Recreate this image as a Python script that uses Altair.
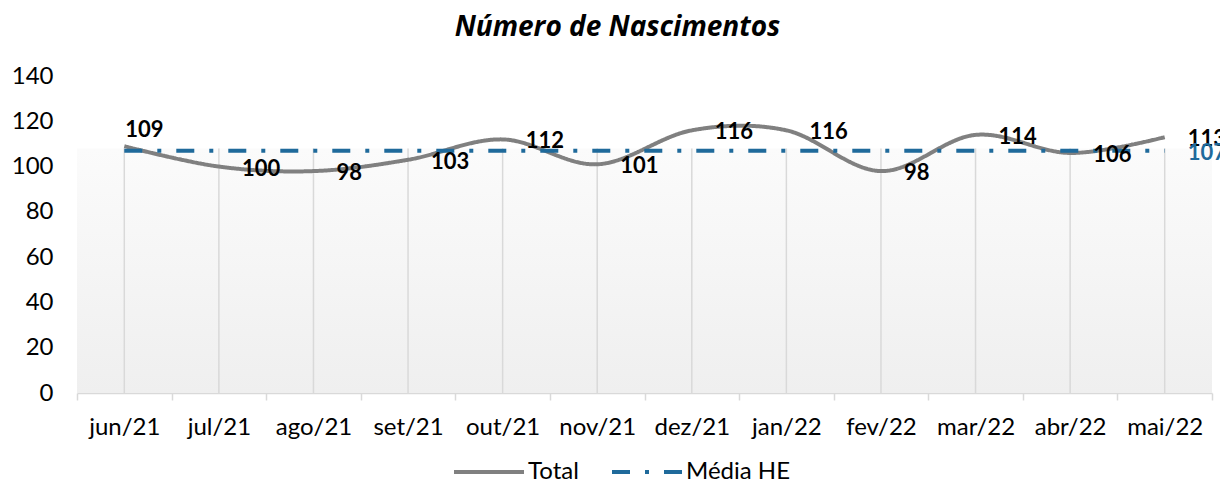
import altair as alt
import pandas as pd

meses = ["jun/21", "jul/21", "ago/21", "set/21", "out/21", "nov/21",
         "dez/21", "jan/22", "fev/22", "mar/22", "abr/22", "mai/22"]
total = [109, 100, 98, 103, 112, 101, 116, 116, 98, 114, 106, 113]
media_he = [107, 107, 107, 107, 107, 107, 107, 107, 107, 107, 107, 107]
faixa_topo = [108]
series = ["Total", "Média HE"]
y_ticks = [0, 20, 40, 60, 80, 100, 120, 140]

FONT = "Lato"
GRAY = "#808080"
BLUE = "#1f6a9b"

df_total = pd.DataFrame({"mes": meses, "valor": total, "serie": "Total", "idx": list(range(len(meses)))})
df_media = pd.DataFrame({"mes": meses, "valor": media_he, "serie": "Média HE", "idx": list(range(len(meses)))})
df_faixa = pd.DataFrame({"valor": faixa_topo})

x_enc = alt.X(
    "mes:N", sort=meses,
    scale=alt.Scale(type="band", paddingInner=0, paddingOuter=0),
    axis=alt.Axis(title=None, labelAngle=0, tickBand="extent", domainColor="#d9d9d9",
                  domainWidth=1.5, tickColor="#d9d9d9", tickWidth=1.5, tickSize=7,
                  labelPadding=15, labelFontSize=24, labelFont=FONT, labelColor="#000000",
                  grid=False),
)
y_scale = alt.Scale(domain=[0, 140], nice=False, zero=True)
y_axis = alt.Axis(title=None, values=y_ticks, domain=False, ticks=False, grid=False,
                  labelPadding=24, labelFontSize=24, labelFont=FONT, labelColor="#000000")
y_enc = alt.Y("valor:Q", scale=y_scale, axis=y_axis)

legend = alt.Legend(orient="none", legendX=375, legendY=359, direction="horizontal",
                    symbolType="stroke", symbolSize=4900, symbolStrokeWidth=4,
                    labelFontSize=24, labelFont=FONT, labelColor="#000000",
                    columnPadding=25, labelOffset=2, title=None)
color_enc = alt.Color("serie:N", scale=alt.Scale(domain=series, range=[GRAY, BLUE]), legend=legend)
dash_enc = alt.StrokeDash("serie:N", scale=alt.Scale(domain=series, range=[[1, 0], [18, 15, 4, 15]]),
                          legend=legend)

gradient = alt.Gradient(gradient="linear", x1=0, x2=0, y1=0, y2=1,
                        stops=[alt.GradientStop(color="#fbfbfb", offset=0),
                               alt.GradientStop(color="#efefef", offset=1)])

bg = alt.Chart(df_faixa).mark_rect(fill=gradient).encode(
    y=y_enc,
    y2=alt.datum(0),
)

rules = alt.Chart(df_total).mark_rule(color="#d9d9d9", strokeWidth=1.5).encode(
    x=x_enc,
    y=alt.datum(faixa_topo[0]),
    y2=alt.datum(0),
)

line_total = alt.Chart(df_total).mark_line(interpolate="cardinal", strokeWidth=4).encode(
    x=x_enc, y=y_enc, color=color_enc, strokeDash=dash_enc,
)
line_media = alt.Chart(df_media).mark_line(strokeWidth=4).encode(
    x=x_enc, y=y_enc, color=color_enc, strokeDash=dash_enc,
)

lab_first = alt.Chart(df_total).transform_filter("datum.idx == 0").mark_text(
    font=FONT, fontSize=22, fontWeight="bold", color="#000000", align="left",
    baseline="middle", dx=1, dy=-16,
).encode(x=x_enc, y=y_enc, text="valor:Q")

lab_total = alt.Chart(df_total).transform_filter("datum.idx > 0").mark_text(
    font=FONT, fontSize=22, fontWeight="bold", color="#000000", align="left",
    baseline="middle", dx=23, dy=2,
).encode(x=x_enc, y=y_enc, text="valor:Q")

lab_media = alt.Chart(df_media).transform_filter("datum.idx == 11").mark_text(
    font=FONT, fontSize=22, fontWeight="bold", color=BLUE, align="left",
    baseline="middle", dx=23, dy=2,
).encode(x=x_enc, y=y_enc, text="valor:Q")

chart = alt.layer(bg, rules, line_total, line_media, lab_first, lab_total, lab_media).properties(
    width=1135, height=317,
    title=alt.TitleParams("Número de Nascimentos", font="Open Sans", fontSize=28, fontWeight="bold",
                          fontStyle="italic", color="#000000", anchor="middle", dx=-27, offset=22),
    autosize=alt.AutoSizeParams(type="none"),
    padding={"left": 69, "top": 68, "right": 8, "bottom": 91},
).configure_view(stroke=None)

chart.save("out.html", embed_options={"renderer": "svg", "actions": False})
